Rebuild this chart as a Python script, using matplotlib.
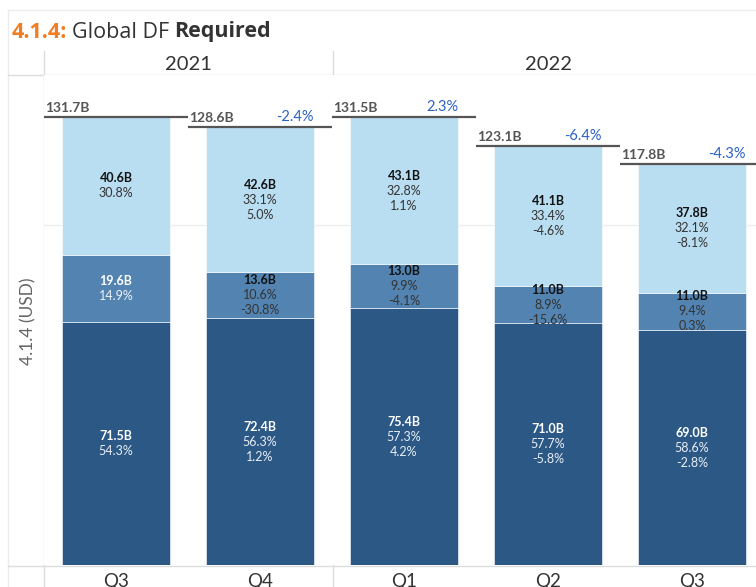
import matplotlib.pyplot as plt
from matplotlib.lines import Line2D

# data
quarters = ["Q3", "Q4", "Q1", "Q2", "Q3"]
years = ["2021", "2022"]
year_slots = [2, 3]
dark = [71.5, 72.4, 75.4, 71.0, 69.0]
mid = [19.6, 13.6, 13.0, 11.0, 11.0]
light = [40.6, 42.6, 43.1, 41.1, 37.8]
totals = [131.7, 128.6, 131.5, 123.1, 117.8]
dark_pct = ["54.3%", "56.3%", "57.3%", "57.7%", "58.6%"]
mid_pct = ["14.9%", "10.6%", "9.9%", "8.9%", "9.4%"]
light_pct = ["30.8%", "33.1%", "32.8%", "33.4%", "32.1%"]
dark_chg = [None, "1.2%", "4.2%", "-5.8%", "-2.8%"]
mid_chg = [None, "-30.8%", "-4.1%", "-15.6%", "0.3%"]
light_chg = [None, "5.0%", "1.1%", "-4.6%", "-8.1%"]
total_chg = [None, "-2.4%", "2.3%", "-6.4%", "-4.3%"]

W, H = 756, 587
C_DARK, C_MID, C_LIGHT = "#2c5886", "#5283b1", "#b9ddf1"
GRID = "#dcdcdc"
FONT = "Lato"

fig = plt.figure(figsize=(W / 100, H / 100), dpi=100)

def fx(x):
    return x / W

def fy(y):
    return 1 - y / H

ax = fig.add_axes([fx(44), fy(565), fx(756) - fx(44), fy(75) - fy(565)])
x = list(range(len(quarters)))
ax.set_xlim(-0.5, (756 - 44) / 144 - 0.5)
ax.set_ylim(0, 490 / 3.405)

ax.axhline(100, color="#eeeeee", lw=1, zorder=0)
ax.bar(x, dark, width=0.75, color=C_DARK, edgecolor="#ffffff", linewidth=0.4, zorder=2)
ax.bar(x, mid, width=0.75, bottom=dark, color=C_MID, edgecolor="#ffffff", linewidth=0.4, zorder=2)
bot2 = [d + m for d, m in zip(dark, mid)]
ax.bar(x, light, width=0.75, bottom=bot2, color=C_LIGHT, edgecolor="#ffffff", linewidth=0.4, zorder=2)

def seg_labels(i, center, val, pct, chg, c_val, c_txt):
    lines = [(f"{val:.1f}B", "bold", c_val), (pct, "normal", c_txt)]
    if chg is not None:
        lines.append((chg, "normal", c_txt))
    n = len(lines)
    for k, (s, w, c) in enumerate(lines):
        off = ((n - 1) / 2 - k) * 10.8
        ax.annotate(s, (i, center), xytext=(0, off), textcoords="offset points",
                    ha="center", va="center", fontsize=9, fontweight=w, color=c,
                    family=FONT, zorder=4)

for i in x:
    seg_labels(i, dark[i] / 2, dark[i], dark_pct[i], dark_chg[i], "white", "#e8eef5")
    mc = ("white", "#eef3f8") if i == 0 else ("#111111", "#333333")
    seg_labels(i, dark[i] + mid[i] / 2, mid[i], mid_pct[i], mid_chg[i], *mc)
    seg_labels(i, bot2[i] + light[i] / 2, light[i], light_pct[i], light_chg[i], "#111111", "#333333")
    # total reference line
    ax.plot([i - 0.5, i + 0.5], [totals[i], totals[i]], color="#555555", lw=1.6,
            zorder=5, solid_capstyle="butt", clip_on=False)
    ax.annotate(f"{totals[i]:.1f}B", (i - 0.49, totals[i]), xytext=(0, 2),
                textcoords="offset points", ha="left", va="bottom", fontsize=10,
                fontweight="bold", color="#555555", family=FONT)
    if total_chg[i] is not None:
        ax.annotate(total_chg[i], (i + 0.375, totals[i]), xytext=(0, 2),
                    textcoords="offset points", ha="right", va="bottom", fontsize=10.5,
                    color="#2b62c4", family=FONT)

for s in ax.spines.values():
    s.set_visible(False)
ax.set_yticks([])
ax.set_xticks(x)
ax.set_xticklabels(quarters, fontsize=13.5, color="#333333", family=FONT)
ax.tick_params(axis="x", length=0, pad=6)
ax.set_zorder(1)

# frame, header and pane lines
def fline(x0, y0, x1, y1, c=GRID, lw=1):
    fig.add_artist(Line2D([fx(x0), fx(x1)], [fy(y0), fy(y1)], color=c, lw=lw, zorder=0))

fline(8, 10, 756, 10, "#ececec")
fline(8, 10, 8, 587, "#ececec")
fline(8, 75, 756, 75)
fline(8, 565.5, 756, 565.5)
fline(44, 51, 44, 587)
fline(333, 51, 333, 587)

# year headers
left = 44
for yr, n in zip(years, year_slots):
    fig.text(fx(left + n * 72), fy(64), yr, ha="center", va="center", fontsize=14.5,
             color="#333333", family=FONT)
    left += n * 144

fig.text(fx(28), fy(321), "4.1.4 (USD)", rotation=90, ha="center", va="center",
         fontsize=12.5, color="#666666", family=FONT)

# title
TS = 15.5
t1 = fig.text(fx(12), fy(32), "4.1.4:", ha="left", va="center", fontsize=TS,
              color="#f47c20", fontweight="bold", family="Open Sans")
fig.canvas.draw()
r = fig.canvas.get_renderer()
bb = t1.get_window_extent(r)
t2 = fig.text(bb.x1 / W + fx(5), fy(32), "Global DF", ha="left", va="center",
              fontsize=TS, color="#333333", family="Open Sans")
bb2 = t2.get_window_extent(r)
fig.text(bb2.x1 / W + fx(5), fy(32), "Required", ha="left", va="center",
         fontsize=TS, color="#333333", fontweight="bold", family="Open Sans")

fig.savefig("out.png", dpi=100)
